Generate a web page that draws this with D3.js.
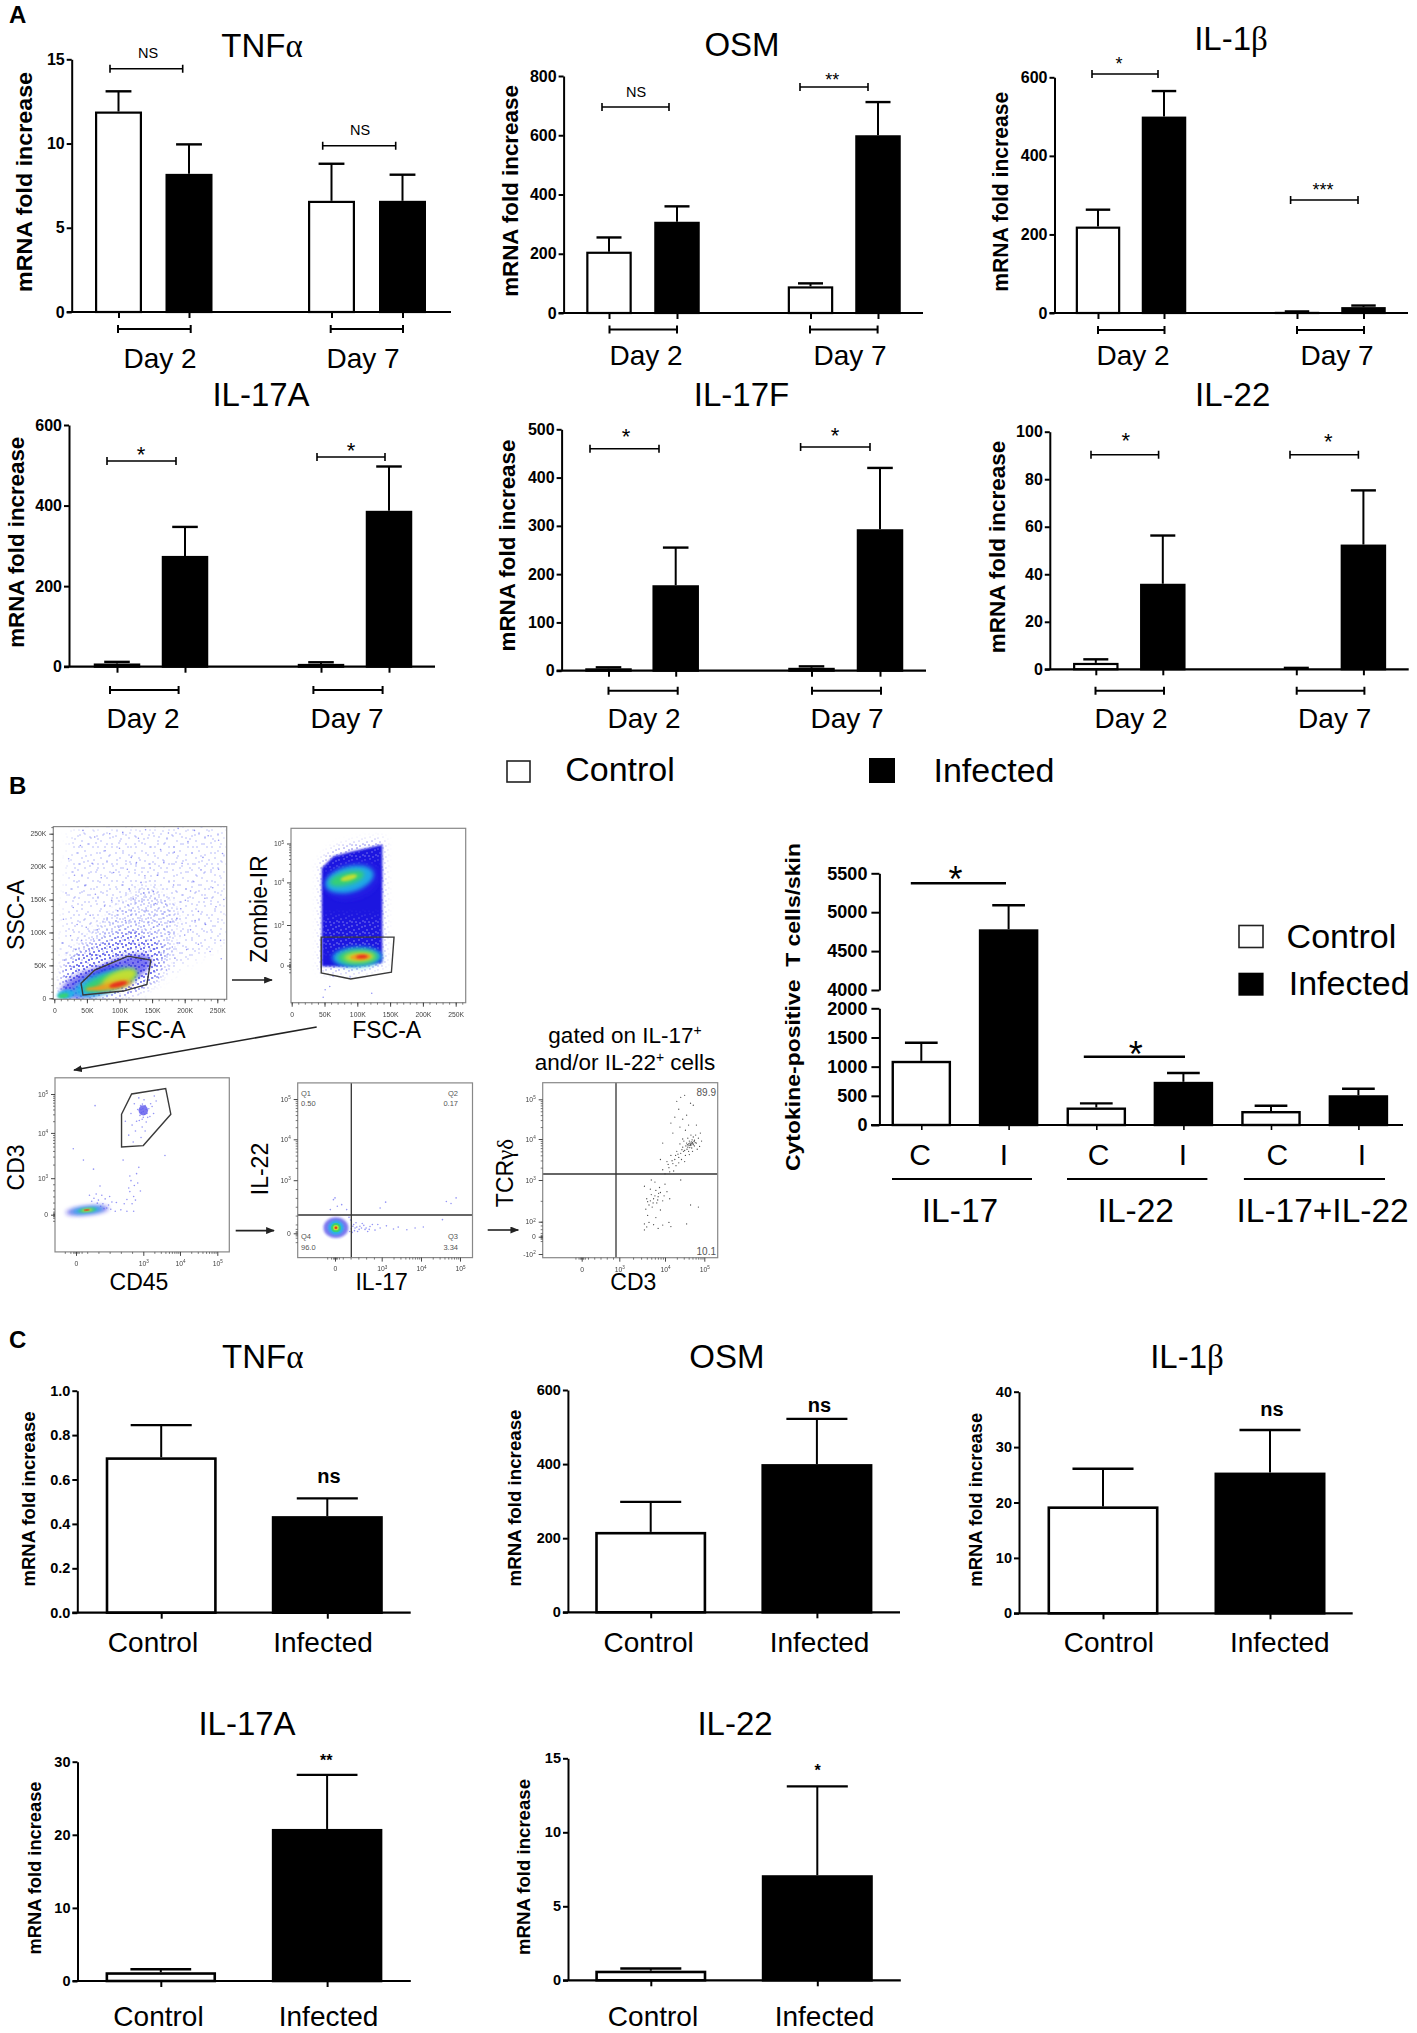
<!DOCTYPE html>
<html lang="en">
<head>
<meta charset="utf-8">
<title>Cytokine expression panels</title>
<script src="https://d3js.org/d3.v7.min.js"></script>
<style>
  body { margin: 0; background: #fff; }
  svg { display: block; }
  text { font-family: "Liberation Sans", Arial, sans-serif; fill: #000; }
</style>
</head>
<body>
<svg></svg>
<script>

// ---- values ----

var conditions = ["Control", "Infected"];
var dayConditions = ["Control", "Infected", "Control", "Infected"];
var dayLabels = ["Day 2", "Day 7"];

// panel A: mean and top of the error bar, Day 2 C/I then Day 7 C/I
var aTnfMeans = [11.9, 8.2, 6.6, 6.6];
var aTnfTops = [13.1, 9.95, 8.8, 8.15];
var aOsmMeans = [207, 308, 90, 600];
var aOsmTops = [255, 360, 100, 712];
var aIl1bMeans = [220, 500, 3, 15];
var aIl1bTops = [263, 565, 4, 19];
var aIl17aMeans = [8, 275, 7, 387];
var aIl17aTops = [12, 347, 11, 497];
var aIl17fMeans = [5, 177, 6, 293];
var aIl17fTops = [7, 255, 9, 420];
var aIl22Means = [2.7, 36, 0.4, 52.5];
var aIl22Tops = [4.2, 56.3, 0.6, 75.3];

// panel B right: cytokine-positive T cells
var bCategories = ["IL-17 C", "IL-17 I", "IL-22 C", "IL-22 I", "both C", "both I"];
var bTickLabels = ["C", "I", "C", "I", "C", "I"];
var bConditions = ["Control", "Infected", "Control", "Infected", "Control", "Infected"];
var bMeans = [1100, 4780, 300, 740, 240, 510];
var bTops = [1410, 5090, 370, 890, 330, 620];
var bGroups = ["IL-17", "IL-22", "IL-17+IL-22"];
var bTicksLow = [0, 500, 1000, 1500, 2000];
var bTicksHigh = [4000, 4500, 5000, 5500];

// panel C
var cTnfMeans = [0.7, 0.435];
var cTnfTops = [0.845, 0.515];
var cOsmMeans = [217, 400];
var cOsmTops = [298, 522];
var cIl1bMeans = [19.3, 25.4];
var cIl1bTops = [26.1, 33.1];
var cIl17aMeans = [1.2, 20.8];
var cIl17aTops = [1.6, 28.2];
var cIl22Means = [0.65, 7.1];
var cIl22Tops = [0.8, 13.1];

// flow plots. linear axes in thousands, log axes in decades (3 = 10^3, 0 = the "0" tick)
var linearTicks = [0, 50, 100, 150, 200, 250];
var decadeTicks = [0, 3, 4, 5];
var tcrTicks = [-2, 0, 2, 3, 4, 5];

// gates as axis values
var gateSsc = [[41,23],[62,43],[113,64],[148,58],[142,21],[106,11],[44,5]];
var gateZombie = [[45,2.1],[156,2.1],[152,-0.5],[90,-1],[45,-.55]];
var gateCd3 = [[2.03,4.48],[2.48,5],[3.61,5.14],[3.75,4.48],[3,3.72],[2.03,3.69]];

// density patches: x, y, x radius, y radius, tilt, density level (0 blue .. 5 red)
var blobsSsc = [
  [60,24,52,20,-18,0],[100,40,52,20,-22,0],
  [18,6,14,7,-10,1],[14,4,8,3.5,-10,2],
  [78,24,50,16,-18,1],[85,26,42,12,-18,2],[100,30,28,12,-22,3],
  [92,20,28,6,-10,4],[98,21,14,4,-14,5],[64,15,16,3,-5,4]
];
var blobsZombie = [
  [92,4.05,44,.5,-15,0],[88,4.08,38,.33,-15,1],[84,4.1,27,.17,-15,2],[87,4.12,13,.07,-15,3],
  [100,.62,38,.75,-2,1],[101,.62,31,.55,-2,2],[103,.63,23,.36,-3,3],
  [105,.63,16,.24,-3,4],[107,.65,9,.14,-3,5]
];
var blobsCd3 = [
  [3,4.58,.13,.13,0,0],
  [.5,.35,.95,.36,-6,0],[.5,.37,.7,.24,-6,1],[.5,.38,.42,.16,-6,2],[.5,.38,.26,.1,-6,3],[.48,.38,.14,.06,-6,5]
];
var blobsIl17 = [
  [.06,.32,.8,.58,0,0],[.06,.32,.5,.4,0,1],[.06,.32,.32,.26,0,2],[.06,.32,.18,.15,0,3],[.06,.32,.09,.07,0,5]
];

// speckled regions, scattered events too many to list
var fanSsc = [[10,0],[10,70],[25,255],[262,262],[262,85],[190,45],[130,5]];
var midSsc = [[20,0],[25,70],[90,130],[140,175],[190,135],[180,60],[130,10]];
var lowSsc = [[10,0],[15,50],[60,80],[120,105],[168,80],[160,30],[110,4]];
var coreZombie = [[46,-.05],[46,4.37],[64,4.67],[94,4.8],[138,4.97],[138,.2],[94,-.1]];
var fringeZombie = [[44,-.4],[44,4.5],[64,4.85],[94,5],[140,5.1],[141,0],[94,-.5]];
var paleZombieMid = [[46,1],[138,1],[138,3.2],[46,3.2]];
var paleZombieTop = [[46,4.37],[64,4.67],[94,4.8],[138,4.97],[138,4.55],[100,4.5],[60,4.25]];

// individual events that can be made out
var dotsSsc = [[22,212],[31,187],[18,160],[40,232],[58,205],[47,171],[29,138],[63,158],[78,224],[91,191],[72,183],[88,149],[55,126],[35,112],[25,95],[42,88],[66,104],[81,122],[97,133],[104,172],[118,214],[129,243],[112,196],[133,176],[121,151],[109,118],[126,101],[141,134],[152,162],[147,198],[163,226],[175,251],[158,187],[171,143],[183,172],[196,205],[205,238],[188,121],[201,149],[214,177],[228,214],[236,247],[221,132],[243,168],[252,196],[209,104],[232,112],[248,139],[255,88],[192,84],[176,97],[161,112],[149,88],[137,72],[168,69],[185,61],[203,74],[221,82],[239,71],[154,52],[172,43],[148,38],[122,84],[103,92],[86,78],[71,63],[54,72],[38,61],[27,48],[19,33],[44,41],[62,52],[33,74],[16,58],[128,58],[110,70],[95,64],[160,31],[14,120],[12,84],[85,250],[62,245],[44,255],[105,252],[140,256],[190,258],[215,255],[252,240],[258,220],[260,150],[256,60],[137,160],[144,122],[118,134],[131,118],[152,108],[167,128],[99,108],[115,166],[139,186],[155,144],[178,116],[194,136],[126,206],[100,228],[77,140],[60,90],[49,108],[209,163],[225,195],[184,222],[168,206],[231,152],[216,118],[200,96],[181,78],[165,58]];
var dotsZombie = [[51,-1.8],[58,-1.55],[63,-.8],[122,-2.05],[89,-.85],[48,-2.35]];
var dotsCd3 = [[3,4.55],[2.9,4.6],[3.1,4.5],[3.05,4.7],[2.85,4.45],[3.15,4.62],[2.95,4.35],[3.2,4.75],[2.75,4.6],[3.02,4.85],[3.12,4.4],[2.7,4.3],[3.28,4.5],[2.6,4.75],[3.35,4.82],[2.8,4.9],[2.5,4.2],[2.45,4.5],[2.95,4.15],[3.08,4.28],[3.3,4.95],[2.65,4.05],[2.35,3.95],[2.55,3.8],[2.2,4.3],[2.9,3.9],[3.05,4.05],[2.98,4.62],[3.04,4.48],[2.92,4.52],[3.08,4.6],[2.88,4.7],[3.18,4.42],[2.82,4.32],[3.24,4.68],[3,4.4],[2.96,4.74],[2.1,3.4],[2.4,3.05],[2.8,3.24],[2.35,2.2],[2.57,1.5],[2.87,1.95],[2.7,3.1],[2.27,1.25],[1.8,1],[1.5,1.5],[1.07,2.36],[.78,3.2],[1.37,.55],[1.75,.28],[2.27,.28],[2.57,.28],[.33,3.4],[-.12,3.65],[.85,4.7],[3.59,3.5],[1,1.2],[1.2,.9],[1.3,1.3],[.9,1.7],[1.45,.8],[2,.4],[2.5,.9],[2.6,2.4],[2.45,2.8],[2.75,2.6],[3.4,5.1],[1.1,.7],[1.25,.5],[.95,.95],[.8,1.35],[.7,1.1],[1.55,.45],[1.6,1.05],[1.15,1.6],[.6,1.6],[2.15,.9],[2.4,1.9],[2.65,1.2]];
var dotsIl17 = [[-.1,1.9],[.15,1.53],[-.3,1.34],[.43,1.62],[.75,1.34],[0,2],[3.1,1.76],[2.9,1.43],[4.65,1.8],[4.9,2],[4.77,1.68],[1.29,.3],[1.6,.4],[1.93,.22],[2.25,.38],[2.57,.18],[2.9,.3],[3.12,.42],[3.3,.24],[3.42,.35],[3.64,.2],[3.85,.3],[4.06,.36],[4.55,.77],[1.2,.5],[1.45,.1],[1.75,.55],[2.1,.1],[2.4,.5],[2.75,.5],[1,.75],[1.1,.05],[1.35,.6],[1.05,.25],[1.15,.4],[1.25,.15],[1.4,.35],[1.55,.22],[1.7,.3],[1.85,.45],[2,.3],[2.2,.22],[.9,.9],[.95,.1]];
var dotsTcr = [[4.64,3.85],[4.7,3.92],[4.58,3.8],[4.75,3.97],[4.62,3.95],[4.68,3.78],[4.55,3.9],[4.8,3.9],[4.72,4.05],[4.5,3.72],[4.6,3.7],[4.45,3.8],[4.85,4.02],[4.78,4.1],[4.4,3.65],[4.52,3.6],[4.35,3.55],[4.42,3.5],[4.3,3.7],[4.25,3.5],[4.2,3.4],[4.15,3.6],[4.28,3.35],[4.1,3.3],[4.05,3.45],[4.35,3.42],[3.95,3.25],[3.9,3.5],[4.0,3.15],[4.12,3.2],[4.9,4.15],[4.93,3.95],[4.88,3.82],[4.66,4.1],[4.58,4.02],[4.48,3.95],[4.38,3.88],[4.7,3.7],[4.82,3.75],[4.62,3.62],[4.5,3.45],[4.22,3.22],[4.45,4.0],[4.75,3.83],[4.56,3.75],[4.66,3.9],[4.6,3.88],[4.72,3.86],[4.69,3.98],[4.63,3.79],[4.77,3.91],[4.65,3.87],[4.67,3.93],[4.71,3.89],[4.61,3.84],[4.66,3.84],[4.68,3.88],[4.63,3.9],[4.74,3.94],[4.57,3.86],[4.53,3.83],[4.47,3.7],[4.43,3.74],[4.33,3.63],[4.27,3.6],[4.18,3.47],[4.08,3.38],
  [4.4,5.05],[4.3,4.95],[4.5,5.1],[4.35,4.75],[4.55,4.6],[4.45,4.5],[4.65,4.9],[4.72,4.85],[4.25,4.55],[4.38,4.3],[4.6,4.35],[4.2,4.15],[4.8,4.35],[4.15,4.4],[3.95,3.9],[4.52,4.22],
  [3.85,2.6],[3.75,2.55],[3.9,2.7],[3.8,2.75],[3.7,2.65],[3.95,2.5],[3.82,2.45],[3.65,2.4],[3.72,2.35],[3.88,2.82],[3.68,2.78],[3.98,2.62],[3.6,2.55],[3.58,2.3],[3.62,2.15],[4.05,2.72],[4.12,2.55],[3.78,2.95],[4.0,2.9],[3.7,3.0],[3.55,2.85],[3.9,2.28],[3.8,2.1],[3.65,1.9],[3.55,1.7],[3.75,1.6],[3.95,1.55],[4.1,1.9],[3.6,1.3],[3.85,1.1],[4.15,1.35],[3.55,.9],[4.4,3.0],[4.65,2.4],[4.85,2.35],[4.55,1.7],[3.78,2.62],[3.84,2.52],[3.74,2.45],[3.68,2.5],[3.86,2.68],[3.62,2.48]];

// ---- layout ----

var svg = d3.select("svg").attr("width", 1417).attr("height", 2033);
var colour = d3.scaleOrdinal().domain(conditions).range(["#fff", "#000"]);
var density = d3.scaleLinear().domain([0, 1, 2, 3, 4, 5])
    .range(["#2a22e6", "#20b8e8", "#38d468", "#cfe02c", "#f29a1c", "#e62a1c"]);

var defs = svg.append("defs");
[[.35, "soft"], [.5, "b05"], [1.2, "b1"], [2.2, "b2"], [4, "b4"]].forEach(function (f) {
  defs.append("filter").attr("id", f[1])
      .attr("x", "-50%").attr("y", "-50%").attr("width", "200%").attr("height", "200%")
    .append("feGaussianBlur").attr("stdDeviation", f[0]);
});

// speckle tiles for the flow plots
function speck(id, w, h, dots, fill, op) {
  var pat = defs.append("pattern").attr("id", id).attr("patternUnits", "userSpaceOnUse")
      .attr("width", w).attr("height", h);
  pat.selectAll("circle").data(dots).enter().append("circle")
      .attr("cx", function (d) { return d[0]; }).attr("cy", function (d) { return d[1]; })
      .attr("r", .75).attr("fill", fill).attr("fill-opacity", op);
}
var tileA = [[2,3],[9,1],[15,5],[6,8],[12,11],[17,14],[3,14]];
var tileB = [[4,2],[13,6],[20,3],[8,12],[17,15],[2,19],[11,23],[21,25],[6,27],[15,21]];
var tileC = [[1,2],[6,1],[11,3],[3,6],[8,5],[12,8],[5,9],[9,10],[1,9]];
speck("spA", 19, 17, tileA, "#5a60f0", .55);
speck("spB", 23, 29, tileB, "#5a60f0", .55);
speck("spC", 13, 11, tileC, "#4048ea", .6);
speck("spD", 13, 11, tileC, "#1c18e0", .85);
speck("spW", 13, 11, tileC, "#fff", .55);

// plain text with greek letters and ^ superscripts
function label(parent, x, y, s, o) {
  o = o || {};
  var t = parent.append("text")
      .attr("x", x).attr("y", y)
      .attr("font-size", o.size || 16)
      .attr("font-weight", o.weight || "normal")
      .attr("text-anchor", o.anchor || "middle");
  if (o.fill) t.style("fill", o.fill);
  if (o.rotate) t.attr("transform", "rotate(-90 " + x + " " + y + ")");
  if (o.length) t.attr("textLength", o.length).attr("lengthAdjust", "spacingAndGlyphs");
  var lift = 0;
  s.split(/([αβγδ]|\^.)/).filter(function (p) { return p; }).forEach(function (p) {
    var span = t.append("tspan");
    if (lift) { span.attr("dy", lift); lift = 0; }
    if (/[αβγδ]/.test(p)) {
      span.text(p).style("font-family", "'Liberation Serif', serif");
    } else if (p[0] === "^") {
      span.text(p[1]).attr("font-size", (o.size || 16) * .62).attr("dy", -(o.size || 16) * .36);
      lift = (o.size || 16) * .36;
    } else {
      span.text(p);
    }
  });
  return t;
}

function styleAxis(a, size, sw) {
  a.selectAll("line").attr("stroke", "#000").attr("stroke-width", sw);
  a.selectAll("path").attr("stroke", "#000").attr("stroke-width", sw);
  a.selectAll("text").attr("font-size", size).attr("font-weight", "bold")
      .attr("font-family", "'Liberation Sans', Arial, sans-serif");
}

function drawBars(g, rows, x, y, barW, sw) {
  var capW = barW * .55;
  var err = g.selectAll(".err").data(rows).enter().append("g").attr("stroke", "#000").attr("stroke-width", 2);
  err.append("line")
      .attr("x1", function (d) { return x(d.key); }).attr("x2", function (d) { return x(d.key); })
      .attr("y1", function (d) { return y(d.mean); }).attr("y2", function (d) { return y(d.top); });
  err.append("line")
      .attr("x1", function (d) { return x(d.key) - capW / 2; }).attr("x2", function (d) { return x(d.key) + capW / 2; })
      .attr("y1", function (d) { return y(d.top); }).attr("y2", function (d) { return y(d.top); })
      .attr("stroke-width", 2.4);
  // the stroke sits inside the value so the outer edge of the bar reads true
  g.selectAll(".bar").data(rows).enter().append("rect")
      .attr("x", function (d) { return x(d.key) - (barW - sw) / 2; })
      .attr("width", barW - sw)
      .attr("y", function (d) { return y(d.mean) + sw / 2; })
      .attr("height", function (d) { return Math.max(0, y(0) - y(d.mean) - sw / 2); })
      .attr("fill", function (d) { return colour(d.cond); })
      .attr("stroke", "#000").attr("stroke-width", sw);
}

function bracket(g, x0, x1, y, h, sw) {
  var path = d3.path();
  path.moveTo(x0, y); path.lineTo(x1, y);
  if (h) {
    path.moveTo(x0, y - h); path.lineTo(x0, y + h);
    path.moveTo(x1, y - h); path.lineTo(x1, y + h);
  }
  g.append("path").attr("d", path.toString()).attr("stroke", "#000").attr("stroke-width", sw).attr("fill", "none");
}

function barPanel(p) {
  var g = svg.append("g");
  var keys = p.means.map(function (d, i) { return i; });
  var x = d3.scaleOrdinal().domain(keys).range(p.centers);
  var y = d3.scaleLinear().domain([0, p.yMax]).range([p.y0, p.yTop]);
  var conds = p.means.length === 4 ? dayConditions : conditions;
  var rows = p.means.map(function (m, i) { return {key: i, cond: conds[i], mean: m, top: p.tops[i]}; });

  drawBars(g, rows, x, y, p.barW, p.sw || 2.2);

  var yAxis = g.append("g").attr("transform", "translate(" + p.axisX + ",0)")
      .call(d3.axisLeft(y).tickValues(p.ticks).tickSize(5).tickSizeOuter(0).tickPadding(2)
        .tickFormat(p.tickFormat || d3.format("d")));
  styleAxis(yAxis, p.tickSize || 16, 2);

  var xAxis = g.append("g").attr("transform", "translate(0," + p.y0 + ")")
      .call(d3.axisBottom(x).tickValues(keys).tickSize(6).tickFormat(""));
  xAxis.select(".domain").remove();
  styleAxis(xAxis, 1, 2);
  g.append("line").attr("x1", p.axisX - 5).attr("x2", p.endX).attr("y1", p.y0).attr("y2", p.y0)
      .attr("stroke", "#000").attr("stroke-width", 2.2);

  label(g, p.title[1], p.title[2], p.title[0], {size: 33});
  label(g, p.yLab[0], p.yLab[1], "mRNA fold increase", {size: p.yLabSize || 22, weight: "bold", rotate: true, length: p.yLab[2]});

  p.names.forEach(function (n, i) { label(g, p.nameXs[i], p.nameY, n, {size: 28}); });
  (p.under || []).forEach(function (u) { bracket(g, u[0], u[1], p.underY, 4, 2); });
  (p.sig || []).forEach(function (s) {
    bracket(g, s[0], s[1], s[2], 4, 1.6);
    if (s[3] === "NS") label(g, s[4], s[5], "NS", {size: 14.5});
    else label(g, s[4], s[5] + .58 * s[6], s[3], {size: s[6]});
  });
  (p.notes || []).forEach(function (n) {
    label(g, n[1], n[2], n[0], {size: n[3], weight: "bold"});
  });
}

// panel letters
label(svg, 9, 23, "A", {size: 24, weight: "bold", anchor: "start"});
label(svg, 9, 794, "B", {size: 24, weight: "bold", anchor: "start"});
label(svg, 9, 1348, "C", {size: 24, weight: "bold", anchor: "start"});

// ---- panel A ----

barPanel({title: ["TNFα", 262, 57], yLab: [32, 182, 220], axisX: 71.7, y0: 312, yTop: 59.3, endX: 451, yMax: 15,
  ticks: [0, 5, 10, 15], means: aTnfMeans, tops: aTnfTops, centers: [118.5, 189, 331.5, 402.5], barW: 47,
  names: dayLabels, nameXs: [160, 363], nameY: 367.7, under: [[118, 190.7], [330.7, 403]], underY: 329,
  sig: [[110, 182.7, 68.7, "NS", 148, 58], [322.7, 395.7, 145.7, "NS", 360, 135]]});
barPanel({title: ["OSM", 742, 56], yLab: [518, 191, 211.7], axisX: 563.6, y0: 313, yTop: 76, endX: 923, yMax: 800,
  ticks: [0, 200, 400, 600, 800], means: aOsmMeans, tops: aOsmTops, centers: [609, 677, 810.5, 878], barW: 45.5,
  names: dayLabels, nameXs: [646, 850], nameY: 365, under: [[609.5, 677], [810, 877.6]], underY: 329.5,
  sig: [[602, 669, 107, "NS", 636, 97.3], [800, 868, 87, "**", 832.3, 76, 18]]});
barPanel({title: ["IL-1β", 1231, 50], yLab: [1008, 191.7, 200], axisX: 1054.5, y0: 313, yTop: 77.3, endX: 1408, yMax: 600,
  ticks: [0, 200, 400, 600], means: aIl1bMeans, tops: aIl1bTops, centers: [1098, 1164, 1297, 1363.5], barW: 44.5,
  names: dayLabels, nameXs: [1133, 1337], nameY: 365, under: [[1098, 1164.5], [1297, 1364]], underY: 330,
  sig: [[1092, 1158, 74, "*", 1119, 60, 18], [1290.6, 1358, 200, "***", 1323, 186, 18]]});
barPanel({title: ["IL-17A", 261, 406], yLab: [23.6, 542.3, 211], axisX: 69, y0: 666.7, yTop: 425, endX: 435, yMax: 600,
  ticks: [0, 200, 400, 600], means: aIl17aMeans, tops: aIl17aTops, centers: [117, 185, 321, 389], barW: 46.5,
  names: dayLabels, nameXs: [143, 347], nameY: 728, under: [[110, 178.6], [313.4, 382.6]], underY: 690,
  sig: [[107, 176, 461, "*", 141, 449, 22], [317, 385, 457, "*", 351, 445, 22]]});
barPanel({title: ["IL-17F", 741.5, 406], yLab: [514.7, 545.5, 212], axisX: 561.6, y0: 670.7, yTop: 429.3, endX: 926, yMax: 500,
  ticks: [0, 100, 200, 300, 400, 500], means: aIl17fMeans, tops: aIl17fTops, centers: [608.5, 675.7, 811.5, 880], barW: 46.5,
  names: dayLabels, nameXs: [644, 847], nameY: 727.7, under: [[608.5, 677.7], [812, 881]], underY: 690.7,
  sig: [[590, 659, 448.7, "*", 626, 431.7, 22], [800.6, 870, 447, "*", 835, 430.7, 22]]});
barPanel({title: ["IL-22", 1232.7, 406], yLab: [1005, 547, 212.6], axisX: 1049.8, y0: 669.3, yTop: 431.7, endX: 1408.7, yMax: 100,
  ticks: [0, 20, 40, 60, 80, 100], means: aIl22Means, tops: aIl22Tops, centers: [1095.8, 1162.8, 1296.3, 1363.4], barW: 45.5,
  names: dayLabels, nameXs: [1131, 1334.7], nameY: 727.7, under: [[1095.5, 1164], [1296.7, 1364.4]], underY: 690.7,
  sig: [[1091, 1158.6, 454.7, "*", 1125.7, 435, 22], [1290, 1358.4, 454.7, "*", 1328.3, 436, 22]]});

// shared legend under panel A
svg.append("rect").attr("x", 507).attr("y", 761).attr("width", 23).attr("height", 21)
    .attr("fill", colour("Control")).attr("stroke", "#222").attr("stroke-width", 1.6);
label(svg, 620, 780.7, "Control", {size: 34});
svg.append("rect").attr("x", 869).attr("y", 758).attr("width", 26).attr("height", 25).attr("fill", colour("Infected"));
label(svg, 994, 781.7, "Infected", {size: 34});

// ---- panel C ----

var cCommon = {names: conditions, nameY: 1652, sw: 2.6, tickSize: 14.5, yLabSize: 17.5};
barPanel(Object.assign({}, cCommon, {title: ["TNFα", 262.7, 1368], yLab: [35, 1499, 175], axisX: 77.3, y0: 1612.7, yTop: 1390.7, endX: 410.7, yMax: 1,
  ticks: [0, .2, .4, .6, .8, 1], tickFormat: d3.format(".1f"), means: cTnfMeans, tops: cTnfTops, centers: [161.2, 327.3], barW: 111,
  nameXs: [153, 323], notes: [["ns", 329, 1483, 20]]}));
barPanel(Object.assign({}, cCommon, {title: ["OSM", 726.9, 1368], yLab: [521, 1498, 177], axisX: 567.9, y0: 1612.3, yTop: 1390, endX: 900, yMax: 600,
  ticks: [0, 200, 400, 600], means: cOsmMeans, tops: cOsmTops, centers: [650.7, 816.9], barW: 111,
  nameXs: [648.6, 819.5], notes: [["ns", 819.5, 1411.7, 20]]}));
barPanel(Object.assign({}, cCommon, {title: ["IL-1β", 1187, 1368], yLab: [982, 1499.7, 174], axisX: 1019, y0: 1613.3, yTop: 1391.7, endX: 1352.7, yMax: 40,
  ticks: [0, 10, 20, 30, 40], means: cIl1bMeans, tops: cIl1bTops, centers: [1103, 1270], barW: 111,
  nameXs: [1108.8, 1279.8], notes: [["ns", 1272, 1415.7, 20]]}));
barPanel(Object.assign({}, cCommon, {title: ["IL-17A", 247, 1735], yLab: [41, 1868, 173], axisX: 77.5, y0: 1981, yTop: 1761.7, endX: 410.8, yMax: 30,
  ticks: [0, 10, 20, 30], means: cIl17aMeans, tops: cIl17aTops, centers: [160.8, 327.1], barW: 110.5,
  nameY: 2025.7, nameXs: [158.5, 328.6], notes: [["**", 326.3, 1766, 16]]}));
barPanel(Object.assign({}, cCommon, {title: ["IL-22", 735, 1735], yLab: [530, 1867, 176], axisX: 568, y0: 1980.3, yTop: 1758.3, endX: 900.8, yMax: 15,
  ticks: [0, 5, 10, 15], means: cIl22Means, tops: cIl22Tops, centers: [650.8, 817.3], barW: 111,
  nameY: 2025.7, nameXs: [653, 824.5], notes: [["*", 817.5, 1776, 16]]}));

// ---- panel B, broken axis bars ----

(function () {
  var g = svg.append("g");
  var low = d3.scaleLinear().domain([0, 2000]).range([1125, 1008.3]);
  var high = d3.scaleLinear().domain([4000, 5500]).range([990, 873.3]);
  var y = function (v) { return v <= 2000 ? low(v) : high(v); };
  var x = d3.scaleOrdinal().domain(bCategories).range([921.3, 1008.6, 1096.3, 1183.4, 1271, 1358.4]);
  var rows = bCategories.map(function (c, i) { return {key: c, cond: bConditions[i], mean: bMeans[i], top: bTops[i]}; });
  drawBars(g, rows, x, y, 59.5, 2.4);

  [[low, bTicksLow], [high, bTicksHigh]].forEach(function (s) {
    var a = g.append("g").attr("transform", "translate(879.4,0)")
        .call(d3.axisLeft(s[0]).tickValues(s[1]).tickSize(8).tickSizeOuter(0).tickPadding(4).tickFormat(d3.format("d")));
    styleAxis(a, 18, 2);
  });
  var xa = g.append("g").attr("transform", "translate(0,1125)")
      .call(d3.axisBottom(x).tickSize(5).tickFormat(""));
  xa.select(".domain").remove();
  styleAxis(xa, 1, 1.6);
  g.append("line").attr("x1", 871).attr("x2", 1403).attr("y1", 1125).attr("y2", 1125).attr("stroke", "#000").attr("stroke-width", 2);

  [920, 1004, 1098.5, 1183, 1277.4, 1362].forEach(function (px, i) {
    label(g, px, 1165, bTickLabels[i], {size: 30});
  });
  [[892, 1032], [1067, 1207.4], [1243.9, 1385]].forEach(function (s) { bracket(g, s[0], s[1], 1179, 0, 2); });
  [960, 1135.8, 1322.6].forEach(function (px, i) { label(g, px, 1221.7, bGroups[i], {size: 33.5}); });

  bracket(g, 910.8, 1006, 883.3, 0, 2.4);
  label(g, 955.6, 870.7 + 21, "*", {size: 36});
  bracket(g, 1083.8, 1185, 1056.7, 0, 2.4);
  label(g, 1135.8, 1045.7 + 21, "*", {size: 36});

  label(g, 799.5, 1007, "Cytokine-positive  T cells/skin", {size: 21, weight: "bold", rotate: true, length: 328})
      .style("white-space", "pre");

  g.append("rect").attr("x", 1239).attr("y", 925.5).attr("width", 24).attr("height", 22)
      .attr("fill", colour("Control")).attr("stroke", "#222").attr("stroke-width", 1.6);
  label(g, 1286.6, 947.7, "Control", {size: 34, anchor: "start"});
  g.append("rect").attr("x", 1238.4).attr("y", 972.7).attr("width", 25.2).attr("height", 23).attr("fill", colour("Infected"));
  label(g, 1288.7, 995, "Infected", {size: 34, anchor: "start"});
})();

// ---- panel B, flow plots ----

var line = d3.line();
var decadeMinor = [];
[3, 4].forEach(function (d) {
  d3.range(2, 10).forEach(function (m) { decadeMinor.push(d + Math.log10(m)); });
});
var zeroMinor = [-.5, -.25, -.12, -.06, .06, .12, .25, .5, 1, 1.5, 2, 2.5];

function flowAxis(g, scale, orient, at, ticks, minor, fmt) {
  var make = orient === "left" ? d3.axisLeft : d3.axisBottom;
  var shift = orient === "left" ? "translate(" + at + ",0)" : "translate(0," + at + ")";
  var holder = g.append("g").attr("filter", "url(#soft)");
  var small = holder.append("g").attr("transform", shift)
      .call(make(scale).tickValues(minor).tickSize(2).tickFormat(""));
  small.select(".domain").remove();
  small.selectAll("line").attr("stroke", "#444").attr("stroke-width", .7);
  var big = holder.append("g").attr("transform", shift)
      .call(make(scale).tickValues(ticks).tickSize(4).tickPadding(orient === "left" ? 3 : 5).tickFormat(""));
  big.select(".domain").remove();
  big.selectAll("line").attr("stroke", "#333").attr("stroke-width", .9);
  big.selectAll(".tick").each(function (d) {
    var tick = d3.select(this);
    var t = tick.select("text").text(null).attr("font-size", 6.8).style("fill", "#444")
        .attr("font-family", "'Liberation Sans', Arial, sans-serif");
    fmt(t, d);
  });
}

function linearFmt(t, d) { t.text(d === 0 ? "0" : d + "K"); }
function decadeFmt(t, d) {
  if (d === 0) { t.text("0"); return; }
  t.append("tspan").text(d < 0 ? "-10" : "10");
  t.append("tspan").text(Math.abs(d)).attr("font-size", 4.6).attr("dy", -2.6);
}

var maskCount = 0;
function speckLayer(inner, p, region, pattern) {
  var id = "m" + (maskCount++);
  var box = p.box;
  var mask = defs.append("mask").attr("id", id).attr("maskUnits", "userSpaceOnUse")
      .attr("x", box[0]).attr("y", box[1]).attr("width", box[2] - box[0]).attr("height", box[3] - box[1]);
  mask.append("path").attr("d", p.pts(region)).attr("fill", "#fff").attr("filter", "url(#b4)");
  inner.append("rect").attr("x", box[0]).attr("y", box[1])
      .attr("width", box[2] - box[0]).attr("height", box[3] - box[1])
      .attr("fill", "url(#" + pattern + ")").attr("mask", "url(#" + id + ")");
}

function flowPlot(p) {
  var g = svg.append("g");
  var id = "clip" + p.id;
  defs.append("clipPath").attr("id", id).append("rect")
      .attr("x", p.box[0]).attr("y", p.box[1]).attr("width", p.box[2] - p.box[0]).attr("height", p.box[3] - p.box[1]);
  var inner = g.append("g").attr("clip-path", "url(#" + id + ")");
  p.pts = function (arr) { return line(arr.map(function (d) { return [p.x(d[0]), p.y(d[1])]; })) + "Z"; };

  (p.under || []).forEach(function (l) { speckLayer(inner, p, l[0], l[1]); });
  if (p.core) inner.append("path").attr("d", p.pts(p.core)).attr("fill", "#1c18e0").attr("filter", "url(#b1)");
  (p.over || []).forEach(function (l) { speckLayer(inner, p, l[0], l[1]); });
  (p.blobs || []).forEach(function (b) {
    var cx = p.x(b[0]), cy = p.y(b[1]);
    var rx = Math.abs(p.x(b[0] + b[2]) - cx), ry = Math.abs(p.y(b[1] + b[3]) - cy);
    inner.append("ellipse").attr("cx", cx).attr("cy", cy).attr("rx", rx).attr("ry", ry)
        .attr("transform", "rotate(" + b[4] + " " + cx + " " + cy + ")")
        .attr("fill", density(b[5])).attr("fill-opacity", b[5] === 0 ? .6 : .9)
        .attr("filter", rx > 14 ? "url(#b2)" : rx > 5 ? "url(#b1)" : "url(#b05)");
  });
  inner.selectAll(".dot").data(p.dots || []).enter().append("circle")
      .attr("cx", function (d) { return p.x(d[0]); })
      .attr("cy", function (d) { return p.y(d[1]); })
      .attr("r", p.dotR || .8)
      .attr("fill", p.dotFill || "#5a5cf0")
      .attr("fill-opacity", p.dotOpacity || .65);

  if (p.gate) {
    g.append("path").attr("d", p.pts(p.gate)).attr("fill", "none").attr("stroke", "#3a3a3a").attr("stroke-width", 1.4);
  }
  (p.quad || []).forEach(function (q) {
    g.append("line").attr("x1", q[0]).attr("x2", q[2]).attr("y1", q[1]).attr("y2", q[3])
        .attr("stroke", "#333").attr("stroke-width", 1.3);
  });
  g.append("rect").attr("x", p.box[0]).attr("y", p.box[1])
      .attr("width", p.box[2] - p.box[0]).attr("height", p.box[3] - p.box[1])
      .attr("fill", "none").attr("stroke", "#888").attr("stroke-width", 1.2);

  flowAxis(g, p.x, "bottom", p.box[3], p.xTicks, p.xMinor, p.xFmt);
  flowAxis(g, p.y, "left", p.box[0], p.yTicks, p.yMinor, p.yFmt);
  (p.notes || []).forEach(function (n) {
    label(g, n[1], n[2], n[0], {size: n[3], anchor: n[4], fill: "#555"});
  });
}

var linMinor = d3.range(0, 261, 10);
var logMinor = decadeMinor.concat(zeroMinor);

flowPlot({id: 1, box: [53.3, 826.6, 226.7, 999.3],
  x: d3.scaleLinear().domain([0, 250]).range([54.3, 217.3]),
  y: d3.scaleLinear().domain([0, 250]).range([998.3, 833.7]),
  xTicks: linearTicks, yTicks: linearTicks, xMinor: linMinor, yMinor: linMinor, xFmt: linearFmt, yFmt: linearFmt,
  under: [[fanSsc, "spA"], [fanSsc, "spB"], [midSsc, "spC"], [lowSsc, "spC"], [lowSsc, "spD"]],
  blobs: blobsSsc, dots: dotsSsc, gate: gateSsc});

flowPlot({id: 2, box: [291, 828.3, 465.7, 1002.7],
  x: d3.scaleLinear().domain([0, 250]).range([291.7, 455.7]),
  y: d3.scaleLinear().domain([0, 3, 4, 5]).range([965.5, 925, 882.4, 843.5]),
  xTicks: linearTicks, yTicks: decadeTicks, xMinor: linMinor, yMinor: logMinor, xFmt: linearFmt, yFmt: decadeFmt,
  under: [[fringeZombie, "spD"]], core: coreZombie, over: [[paleZombieMid, "spW"], [paleZombieTop, "spW"]],
  blobs: blobsZombie, dots: dotsZombie, gate: gateZombie});

flowPlot({id: 3, box: [55, 1077.8, 229.3, 1251.9],
  x: d3.scaleLinear().domain([0, 3, 4, 5]).range([76, 143.3, 180, 217.3]),
  y: d3.scaleLinear().domain([0, 3, 4, 5]).range([1214.7, 1178.2, 1132.9, 1094]),
  xTicks: decadeTicks, yTicks: decadeTicks, xMinor: logMinor, yMinor: logMinor, xFmt: decadeFmt, yFmt: decadeFmt,
  blobs: blobsCd3, dots: dotsCd3, gate: gateCd3});

flowPlot({id: 4, box: [297.7, 1082.9, 472.5, 1257.6],
  x: d3.scaleLinear().domain([0, 3, 4, 5]).range([335, 381.7, 421, 460]),
  y: d3.scaleLinear().domain([0, 3, 4, 5]).range([1233.3, 1180.2, 1139.3, 1099]),
  xTicks: decadeTicks, yTicks: decadeTicks, xMinor: logMinor, yMinor: logMinor, xFmt: decadeFmt, yFmt: decadeFmt,
  blobs: blobsIl17, dots: dotsIl17,
  quad: [[351.3, 1082.9, 351.3, 1257.6], [297.7, 1215, 472.5, 1215]],
  notes: [["Q1", 301, 1095.5, 7.5, "start"], ["0.50", 301, 1106, 7.5, "start"],
          ["Q2", 458, 1095.5, 7.5, "end"], ["0.17", 458, 1106, 7.5, "end"],
          ["Q4", 301, 1239, 7.5, "start"], ["96.0", 301, 1249.5, 7.5, "start"],
          ["Q3", 458, 1239, 7.5, "end"], ["3.34", 458, 1249.5, 7.5, "end"]]});

flowPlot({id: 5, box: [542.7, 1082.7, 717.7, 1257.7],
  x: d3.scaleLinear().domain([0, 3, 4, 5]).range([581.7, 619.3, 665, 704.3]),
  y: d3.scaleLinear().domain([-2, 0, 2, 3, 4, 5]).range([1254, 1236.7, 1221.7, 1180, 1139, 1099.3]),
  xTicks: decadeTicks, yTicks: tcrTicks, xMinor: logMinor, yMinor: logMinor, xFmt: decadeFmt, yFmt: decadeFmt,
  dots: dotsTcr, dotR: .65, dotFill: "#111", dotOpacity: .75,
  quad: [[616, 1082.7, 616, 1257.7], [542.7, 1174, 717.7, 1174]],
  notes: [["89.9", 716, 1096, 10, "end"], ["10.1", 716, 1255, 10, "end"]]});

// flow axis names
[["FSC-A", 151, 1038], ["FSC-A", 386.7, 1038], ["CD45", 139, 1290], ["IL-17", 381.7, 1290], ["CD3", 633.3, 1290]].forEach(function (d) {
  label(svg, d[1], d[2], d[0], {size: 23});
});
[["SSC-A", 24.5, 914.8], ["Zombie-IR", 267, 909], ["CD3", 24, 1167.4], ["IL-22", 267.5, 1169], ["TCRγδ", 513, 1173]].forEach(function (d) {
  label(svg, d[1], d[2], d[0], {size: 23, rotate: true});
});
label(svg, 625, 1042.7, "gated on IL-17^+", {size: 22.5});
label(svg, 625, 1070, "and/or IL-22^+ cells", {size: 22.5});

// gating arrows
defs.append("marker").attr("id", "head").attr("viewBox", "0 0 10 8").attr("refX", 9).attr("refY", 4)
    .attr("markerWidth", 9).attr("markerHeight", 7).attr("markerUnits", "userSpaceOnUse").attr("orient", "auto")
  .append("path").attr("d", "M0,0L10,4L0,8Z").attr("fill", "#222");
[[232, 980, 272, 980], [316.7, 1027, 74, 1070], [235.7, 1230.6, 274, 1230.6], [487.7, 1230, 518.3, 1230]].forEach(function (a) {
  svg.append("line").attr("x1", a[0]).attr("y1", a[1]).attr("x2", a[2]).attr("y2", a[3])
      .attr("stroke", "#222").attr("stroke-width", 1.6).attr("marker-end", "url(#head)");
});

</script>
</body>
</html>
